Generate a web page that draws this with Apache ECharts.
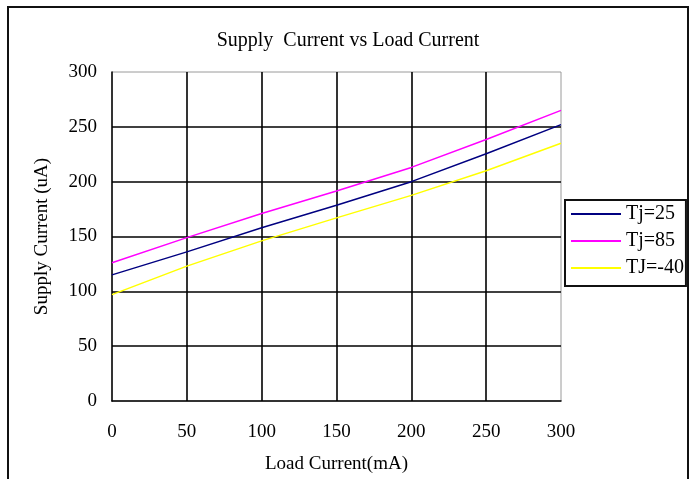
<!DOCTYPE html>
<html>
<head>
<meta charset="utf-8">
<script src="https://cdn.jsdelivr.net/npm/echarts@6/dist/echarts.min.js"></script>
<style>
  html, body { margin: 0; padding: 0; background: #fff; }
  #chart { width: 696px; height: 479px; }
</style>
</head>
<body>
<div id="chart"></div>
<script>
// Load current (mA) sample points
var loadCurrent = [0, 50, 100, 150, 200, 250, 300];
// Supply current (uA) per junction temperature
var tj25  = [115, 136, 158, 178.5, 200, 225.5, 252];
var tj85  = [126, 149, 171, 191.5, 213, 238.5, 265];
var tjm40 = [97, 123, 146, 167, 187.5, 210, 235];

var seriesNames = ['Tj=25', 'Tj=85', 'TJ=-40'];
var seriesValues = [tj25, tj85, tjm40];
var seriesColors = ['#000080', '#ff00ff', '#ffff00'];

var xTicks = { min: 0, max: 300, interval: 50 };
var yTicks = { min: 0, max: 300, interval: 50 };

var FONT = 'Liberation Serif';

function pairs(xs, ys) {
  return xs.map(function (x, i) { return [x, ys[i]]; });
}

var chart = echarts.init(document.getElementById('chart'), null, { renderer: 'canvas' });

chart.setOption({
  backgroundColor: '#fff',
  animation: false,
  textStyle: { fontFamily: FONT, color: '#000' },
  title: {
    text: 'Supply  Current vs Load Current',
    left: 'center',
    top: 26,
    textStyle: { fontFamily: FONT, fontSize: 20, fontWeight: 'normal', color: '#000' }
  },
  graphic: [{
    type: 'rect',
    shape: { x: 8, y: 7, width: 680, height: 490 },
    style: { fill: 'none', stroke: '#111', lineWidth: 2 },
    silent: true,
    z: -1
  }],
  legend: {
    orient: 'vertical',
    left: 565,
    top: 200,
    padding: [4, 2, 8, 6],
    itemGap: 7,
    itemWidth: 50,
    itemHeight: 2,
    icon: 'rect',
    borderColor: '#111',
    borderWidth: 2,
    backgroundColor: '#fff',
    textStyle: { fontFamily: FONT, fontSize: 20, color: '#000', padding: 0 },
    data: seriesNames
  },
  grid: {
    left: 112,
    top: 72,
    width: 449,
    height: 330,
    show: true,
    borderColor: '#9a9a9a',
    borderWidth: 1
  },
  xAxis: {
    type: 'value',
    min: xTicks.min,
    max: xTicks.max,
    interval: xTicks.interval,
    name: 'Load Current(mA)',
    nameLocation: 'middle',
    nameGap: 54,
    nameTextStyle: { fontFamily: FONT, fontSize: 19, color: '#000' },
    axisLine: { show: true, lineStyle: { color: '#000', width: 1.5 } },
    axisTick: { show: false },
    axisLabel: { margin: 22, fontFamily: FONT, fontSize: 19, color: '#000' },
    splitLine: { show: true, showMinLine: false, showMaxLine: false, lineStyle: { color: '#000', width: 1.6 } }
  },
  yAxis: {
    type: 'value',
    min: yTicks.min,
    max: yTicks.max,
    interval: yTicks.interval,
    name: 'Supply Current (uA)',
    nameLocation: 'middle',
    nameGap: 60,
    nameTextStyle: { fontFamily: FONT, fontSize: 19, color: '#000' },
    axisLine: { show: true, lineStyle: { color: '#000', width: 1.5 } },
    axisTick: { show: false },
    axisLabel: { margin: 15, fontFamily: FONT, fontSize: 19, color: '#000' },
    splitLine: { show: true, showMinLine: false, showMaxLine: false, lineStyle: { color: '#000', width: 1.6 } }
  },
  series: seriesNames.map(function (name, i) {
    return {
      name: name,
      type: 'line',
      data: pairs(loadCurrent, seriesValues[i]),
      showSymbol: false,
      symbol: 'none',
      smooth: false,
      color: seriesColors[i],
      lineStyle: { color: seriesColors[i], width: 1.5 },
      z: 3
    };
  })
});
</script>
</body>
</html>
